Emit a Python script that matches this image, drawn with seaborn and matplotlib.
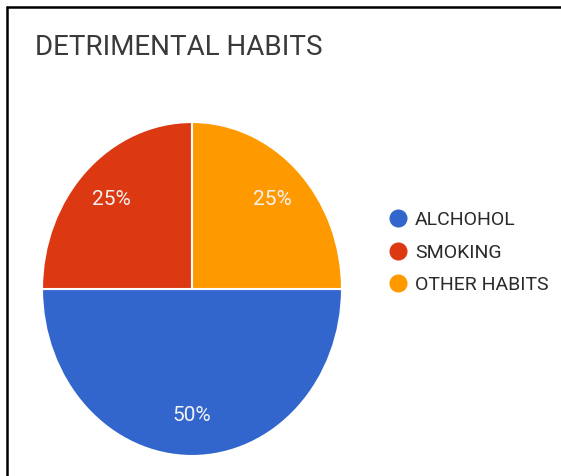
import matplotlib
matplotlib.use("Agg")
import matplotlib.pyplot as plt
from matplotlib.lines import Line2D
import seaborn as sns

categories = ["ALCHOHOL", "SMOKING", "OTHER HABITS"]
values = [50, 25, 25]
colors = ["#3366CC", "#DC3912", "#FF9900"]
title = "DETRIMENTAL HABITS"

sns.set_theme(style="white")
plt.rcParams["font.family"] = ["Roboto", "DejaVu Sans"]

W, H = 561, 476
fig = plt.figure(figsize=(W / 100, H / 100), dpi=100)
fig.patch.set_facecolor("white")

# pie axes (slightly stretched vertically, like the reference)
cx, cy, rx, ry = 192, 289, 150, 167
ax = fig.add_axes([(cx - rx) / W, (H - cy - ry) / H, 2 * rx / W, 2 * ry / H])
wedges, texts, autotexts = ax.pie(
    values,
    colors=colors,
    startangle=0,
    counterclock=False,
    autopct="%d%%",
    pctdistance=0.76,
    wedgeprops=dict(edgecolor="white", linewidth=1.5),
    textprops=dict(color="#f2f2f2", fontsize=15),
)
ax.set_aspect("auto")
ax.set_xlim(-1, 1)
ax.set_ylim(-1, 1)
ax.axis("off")

# title
fig.text(35 / W, 1 - 55 / H, title, fontsize=20, color="#3a3a3a",
         ha="left", va="baseline")

# legend
handles = [Line2D([], [], marker="o", linestyle="none", markersize=12,
                  markerfacecolor=c, markeredgecolor=c) for c in colors]
fig.legend(handles, categories, loc="upper left",
           bbox_to_anchor=(388 / W, 1 - 211 / H), frameon=False,
           fontsize=14, handlelength=1.0, handletextpad=0.4,
           labelspacing=0.75, borderpad=0, borderaxespad=0,
           labelcolor="#2a2a2a")

# frame lines (top and left) as in the reference
fig.add_artist(Line2D([7 / W, 1], [1 - 6.5 / H, 1 - 6.5 / H],
                      transform=fig.transFigure, color="black", lw=1.8))
fig.add_artist(Line2D([7 / W, 7 / W], [0, 1 - 6.5 / H],
                      transform=fig.transFigure, color="black", lw=1.8))

fig.savefig("out.png", dpi=100)
